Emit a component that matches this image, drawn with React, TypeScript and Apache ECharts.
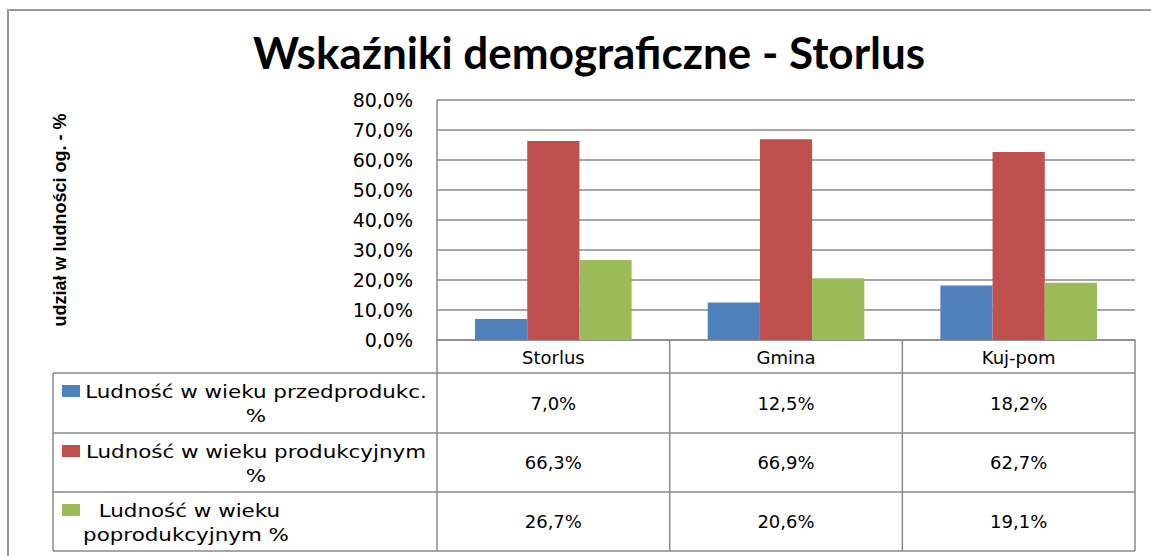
import React, { useEffect, useRef } from "react";
import * as echarts from "echarts";

const chartTitle = "Wskaźniki demograficzne - Storlus";
const yAxisName = "udział w ludności og. - %";
const categories = ["Storlus", "Gmina", "Kuj-pom"];
const seriesNames = [
  "Ludność w wieku przedprodukc. %",
  "Ludność w wieku produkcyjnym %",
  "Ludność w wieku poprodukcyjnym %",
];
const legendLines = [
  ["Ludność w wieku przedprodukc.", "%"],
  ["Ludność w wieku produkcyjnym", "%"],
  [" Ludność w wieku", "poprodukcyjnym %"],
];
const preProductive = [7.0, 12.5, 18.2];
const productive = [66.3, 66.9, 62.7];
const postProductive = [26.7, 20.6, 19.1];
const seriesValues = [preProductive, productive, postProductive];
const colors = ["#4F81BD", "#C0504D", "#9BBB59"];
const yMin = 0;
const yMax = 80;
const yStep = 10;

const fmt = (v: number) => v.toFixed(1).replace(".", ",") + "%";

const FONT = "DejaVu Sans";
const LINE = "#8a8a8a";

export default function App() {
  const ref = useRef<HTMLDivElement>(null);
  useEffect(() => {
    document.body.style.margin = "0";
    const chart = echarts.init(ref.current!, null, { renderer: "svg" });
    chart.setOption({
      animation: false,
      backgroundColor: "#ffffff",
      title: {
        text: chartTitle,
        left: 584,
        top: 25,
        textAlign: "center",
        textStyle: {
          fontFamily: "Lato",
          fontWeight: "bold",
          fontSize: 44,
          color: "#000",
        },
      },
      grid: { left: 437, right: 16, top: 100, bottom: 216 },
      xAxis: {
        type: "category",
        data: categories,
        axisLine: { show: true, lineStyle: { color: LINE, width: 1.5 } },
        axisTick: { show: false },
        axisLabel: {
          fontFamily: FONT,
          fontSize: 18,
          lineHeight: 18,
          color: "#000",
          margin: 8,
        },
      },
      yAxis: {
        type: "value",
        min: yMin,
        max: yMax,
        interval: yStep,
        name: yAxisName,
        nameLocation: "middle",
        nameRotate: 90,
        nameGap: 368,
        nameTextStyle: {
          fontFamily: "Liberation Sans Narrow, Liberation Sans, Arial Narrow, sans-serif",
          fontWeight: "bold",
          fontSize: 18,
          color: "#000",
        },
        axisLine: { show: true, lineStyle: { color: LINE, width: 1.5 } },
        axisTick: { show: false },
        splitLine: { lineStyle: { color: LINE, width: 1.5 } },
        axisLabel: {
          fontFamily: FONT,
          fontSize: 19,
          color: "#000",
          margin: 24,
          formatter: (v: number) => fmt(v),
        },
      },
      series: seriesValues.map((vals, i) => ({
        type: "bar",
        name: seriesNames[i],
        data: vals,
        itemStyle: { color: colors[i] },
        barGap: "0%",
        barCategoryGap: "32.7%",
      })),
    });

    // build the data table below the plot
    const c0 = chart.convertToPixel({ xAxisIndex: 0 }, 0) as number;
    const c1 = chart.convertToPixel({ xAxisIndex: 0 }, 1) as number;
    const catW = c1 - c0;
    const yZero = chart.convertToPixel({ yAxisIndex: 0 }, 0) as number;
    const plotLeft = c0 - catW / 2;
    const plotRight = plotLeft + catW * categories.length;
    const tableLeft = 53;
    const headerBottom = yZero + 33;
    const rowH = [60, 59, 59];
    const rowTops: number[] = [headerBottom];
    rowH.forEach((h, i) => rowTops.push(rowTops[i] + h));
    const tableBottom = rowTops[rowTops.length - 1];
    const legendCenters = [256, 256, 186];

    const g: any[] = [];
    const line = (x1: number, y1: number, x2: number, y2: number) =>
      g.push({
        type: "line",
        shape: { x1, y1, x2, y2 },
        style: { stroke: LINE, lineWidth: 1.5 },
        silent: true,
      });
    // outer chart border
    g.push({
      type: "rect",
      shape: { x: 8, y: 10, width: 1300, height: 700 },
      style: { fill: "none", stroke: "#9a9a9a", lineWidth: 2 },
      silent: true,
    });
    // table lines
    rowTops.forEach((y) => line(tableLeft, y, plotRight, y));
    line(tableLeft, headerBottom, tableLeft, tableBottom);
    for (let i = 0; i <= categories.length; i++) {
      const x = plotLeft + catW * i;
      line(x, yZero, x, tableBottom);
    }
    // rows
    seriesValues.forEach((vals, r) => {
      const top = rowTops[r];
      g.push({
        type: "rect",
        shape: { x: 62, y: top + 12, width: 18, height: 12 },
        style: { fill: colors[r] },
        silent: true,
      });
      legendLines[r].forEach((t, k) => {
        g.push({
          type: "text",
          x: legendCenters[r],
          y: top + 19 + k * 24,
          scaleX: 1.19,
          style: {
            text: t,
            fontFamily: FONT,
            fontSize: 18,
            fill: "#000",
            align: "center",
            verticalAlign: "middle",
          },
          silent: true,
        });
      });
      vals.forEach((v, c) => {
        const cx = chart.convertToPixel({ xAxisIndex: 0 }, c) as number;
        g.push({
          type: "text",
          x: cx,
          y: top + rowH[r] / 2,
          style: {
            text: fmt(v),
            fontFamily: FONT,
            fontSize: 18,
            fill: "#000",
            align: "center",
            verticalAlign: "middle",
          },
          silent: true,
        });
      });
    });
    chart.setOption({ graphic: g });

    return () => chart.dispose();
  }, []);
  return (
    <div
      ref={ref}
      style={{ position: "absolute", left: 0, top: 0, width: 1151, height: 556 }}
    />
  );
}
